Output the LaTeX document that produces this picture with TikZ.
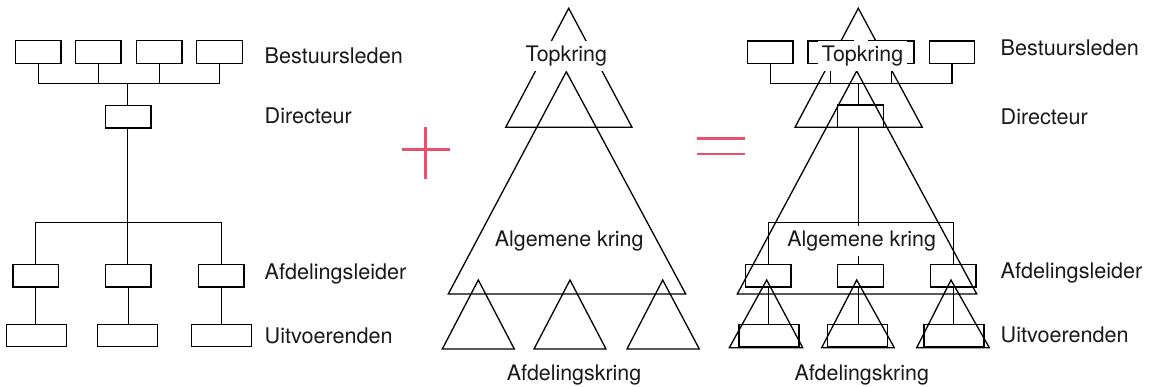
\documentclass[tikz,border=0pt]{standalone}
\usepackage{fontspec}
\setmainfont{TeX Gyre Heros}
\definecolor{plusred}{RGB}{232,80,110}
\definecolor{txt}{RGB}{25,25,25}
\begin{document}
\begin{tikzpicture}[x=1pt,y=-1pt,
  ln/.style={line width=1.3pt},
  bx/.style={draw, line width=1.3pt, inner sep=0pt, minimum height=22.6pt, minimum width=45.5pt},
  wb/.style={bx, minimum width=60pt},
  tri/.style={line width=1.3pt, line join=miter},
  sign/.style={draw=plusred, line width=2.6pt},
  lbl/.style={anchor=base west, inner sep=0pt, font=\fontsize{21.6}{25}\selectfont, text=txt},
  ttl/.style={anchor=base, inner xsep=4pt, inner ysep=5pt, fill=white, font=\fontsize{21.4}{25}\selectfont, text=txt},
]
\useasboundingbox (0,0) rectangle (1157,386);

% ---------------- left organisation chart ----------------
\node[bx] (lt1) at (38.2,52) {};
\node[bx] (lt2) at (98.3,52) {};
\node[bx] (lt3) at (159.2,52) {};
\node[bx] (lt4) at (219.5,52) {};
\node[bx] (ld) at (128.3,116.7) {};
\node[bx] (lm1) at (35.7,275.8) {};
\node[bx] (lm2) at (128.2,275.8) {};
\node[bx] (lm3) at (221.2,275.8) {};
\node[wb] (lb1) at (36.3,335.5) {};
\node[wb] (lb2) at (127.2,335.5) {};
\node[wb] (lb3) at (221.7,335.5) {};
\coordinate (lbus) at (127.3,83.3);
\coordinate (lbus2) at (127.3,222.3);

\draw[ln] (lt1.south) |- (lt4.south |- lbus) -- (lt4.south);
\draw[ln] (lt2.south) -- (lt2.south |- lbus);
\draw[ln] (lt3.south) -- (lt3.south |- lbus);
\draw[ln] (lbus) -- (lbus |- ld.north);
\draw[ln] (lbus |- ld.south) -- (lbus2);
\draw[ln] (lm1.north) |- (lm3.north |- lbus2) -- (lm3.north);
\draw[ln] (lbus2) -- (lbus2 |- lm2.north);
\draw[ln] (lm1.south) -- (lm1.south |- lb1.north);
\draw[ln] (lm2.south) -- (lm2.south |- lb2.north);
\draw[ln] (lm3.south) -- (lm3.south |- lb3.north);

\node[lbl] (l1) at (264.5,63.3) {Bestuursleden};
\node[lbl] (l2) at (264.5,123.3) {Directeur};
\node[lbl] (l3) at (264.5,279) {Afdelingsleider};
\node[lbl] (l4) at (264.5,343.3) {Uitvoerenden};

% ---------------- plus sign ----------------
\draw[sign] (401.7,149.3) -- (450,149.3);
\draw[sign] (425.5,127.3) -- (425.5,179.3);

% ---------------- middle: circles ----------------
\draw[tri] (505.7,127.3) -- (568.7,8.3) -- (632,127.3) -- cycle;
\draw[tri] (448.3,294) -- (566.3,71.7) -- (685.7,294) -- cycle;
\draw[tri] (442.3,349) -- (478.3,280) -- (514.3,349) -- cycle;
\draw[tri] (534,349) -- (570,280) -- (606,349) -- cycle;
\draw[tri] (627,349) -- (662.7,280) -- (699.3,349) -- cycle;
\node[ttl] (mtop) at (566.3,61.7) {Topkring};
\node[ttl] (malg) at (569.2,246) {Algemene kring};
\node[ttl] (mafd) at (574,380) {Afdelingskring};

% ---------------- equals sign ----------------
\draw[sign] (697,138.3) -- (745,138.3);
\draw[sign] (697,154) -- (745,154);

% ---------------- right: combination ----------------
\node[bx] (rt1) at (770.3,52.2) {};
\node[bx] (rt2) at (830.7,52.2) {};
\node[bx] (rt3) at (891.2,52.2) {};
\node[bx] (rt4) at (952,52.2) {};
\node[bx] (rd) at (860.5,116.3) {};
\node[bx] (rm1) at (768.2,275.8) {};
\node[bx] (rm2) at (860.5,275.8) {};
\node[bx] (rm3) at (953.3,275.8) {};
\node[wb] (rb1) at (769,335.5) {};
\node[wb] (rb2) at (857.5,335.5) {};
\node[wb] (rb3) at (954,335.5) {};
\coordinate (rbus) at (858.3,83.3);
\coordinate (rbus2) at (858.3,222.3);

\draw[ln] (rt1.south) |- (rt4.south |- rbus) -- (rt4.south);
\draw[ln] (rt2.south) -- (rt2.south |- rbus);
\draw[ln] (rt3.south) -- (rt3.south |- rbus);
\draw[ln] (rbus) -- (rbus |- rd.north);
\draw[ln] (rbus |- rd.south) -- (rbus |- rm2.north);
\draw[ln] (rm1.north) |- (rm3.north |- rbus2) -- (rm3.north);
\draw[ln] (rm1.south) -- (rm1.south |- rb1.north);
\draw[ln] (rbus |- rm2.south) -- (rbus |- rb2.north);
\draw[ln] (rm3.south) -- (rm3.south |- rb3.north);

\draw[tri] (795,127.3) -- (858.3,8.3) -- (922.3,127.3) -- cycle;
\draw[tri] (737.3,294) -- (856.7,71) -- (976.7,294) -- cycle;
\draw[tri] (729.3,347.7) -- (766.7,280) -- (802.7,347.7) -- cycle;
\draw[tri] (821.7,347.7) -- (856.7,280) -- (894.3,347.7) -- cycle;
\draw[tri] (916.7,347.7) -- (951,280) -- (989.3,347.7) -- cycle;

\node[ttl] (rtop) at (862.5,61.7) {Topkring};
\node[ttl] (ralg) at (861.7,246.7) {Algemene kring};
\node[ttl] (rafd) at (861.7,380) {Afdelingskring};

\node[lbl] (r1) at (1000.5,55) {Bestuursleden};
\node[lbl] (r2) at (1000.5,124) {Directeur};
\node[lbl] (r3) at (1000.5,278.3) {Afdelingsleider};
\node[lbl] (r4) at (1000.5,342.7) {Uitvoerenden};
\end{tikzpicture}
\end{document}
